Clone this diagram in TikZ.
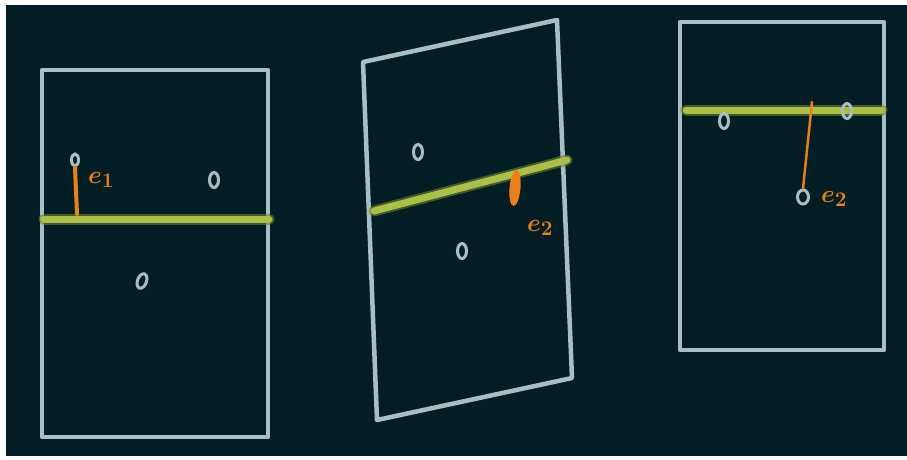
\documentclass[tikz,border=0pt]{standalone}
\usepackage{amsmath}
\usepackage{xcolor}
\usepackage{tikz}
\usetikzlibrary{positioning, calc, shapes.geometric}
\definecolor{board}{RGB}{2,30,36}
\definecolor{chalk}{RGB}{165,192,196}
\definecolor{axis}{RGB}{172,190,76}
\definecolor{axisglow}{RGB}{110,130,40}
\definecolor{mark}{RGB}{232,128,28}
\tikzset{
  frame/.style={draw=chalk, line width=4.5pt, line cap=round, line join=round},
  projline/.style={line cap=round},
  pt/.style={ellipse, draw=chalk, line width=3pt, inner sep=0pt,
    minimum width=9pt, minimum height=15pt},
  tick/.style={draw=mark, line width=4pt, line cap=round},
  elabel/.style={text=mark, font=\fontsize{30}{30}\selectfont\boldmath, inner sep=0pt},
}
\newcommand{\projaxis}[2]{%
  \draw[projline, draw=axisglow, opacity=0.6, line width=11pt] (#1) -- (#2);
  \draw[projline, draw=axis, line width=7pt] (#1) -- (#2);}

\begin{document}
\begin{tikzpicture}[x=1pt, y=-1pt]
  \useasboundingbox (0,0) rectangle (907,459);
  \fill[white] (0,0) rectangle (907,459);
  \fill[board] (6,5) rectangle (907,456);

  % first view
  \coordinate (A1) at (42,70);  \coordinate (B1) at (268,70);
  \coordinate (C1) at (268,437); \coordinate (D1) at (42,437);
  \draw[frame] (A1) -- (D1) -- (C1) -- (B1) -- cycle;
  \coordinate (L1) at (44,219); \coordinate (R1) at (269,219);
  \projaxis{L1}{R1}
  \node[pt] (a1) at (214,180) {};
  \node[pt, rotate=-20] (a2) at (142,281) {};
  \node[pt, minimum width=7pt, minimum height=12pt] (a3) at (75,160) {};
  \coordinate (f1) at (77,214);
  \draw[tick] (a3.south) -- (f1);
  \node[elabel] (e1) at (101,180) {$e_1$};

  % second view, rotated
  \coordinate (A2) at (363,62);  \coordinate (B2) at (557,20);
  \coordinate (C2) at (572,378); \coordinate (D2) at (377,420);
  \draw[frame] (A2) -- (B2) -- (C2) -- (D2) -- cycle;
  \coordinate (L2) at (374,211); \coordinate (R2) at (567,160);
  \projaxis{L2}{R2}
  \node[pt] (b1) at (418,152) {};
  \node[pt] (b2) at (462,251) {};
  \node[ellipse, fill=mark, minimum width=11pt, minimum height=36pt,
    inner sep=0pt, rotate=-5] (b3) at (515,188) {};
  \node[elabel] (e2) at (540,228) {$e_2$};

  % third view
  \coordinate (A3) at (680,22);  \coordinate (B3) at (884,22);
  \coordinate (C3) at (884,350); \coordinate (D3) at (680,350);
  \draw[frame] (A3) -- (D3) -- (C3) -- (B3) -- cycle;
  \coordinate (L3) at (686,110); \coordinate (R3) at (882,110);
  \projaxis{L3}{R3}
  \node[pt] (c1) at (724,121) {};
  \node[pt] (c2) at (847,111) {};
  \node[pt, minimum width=11pt, minimum height=14pt] (c3) at (803,197) {};
  \coordinate (f3) at (812,102);
  \draw[tick, line width=2.5pt] (f3) -- (c3.north);
  \node[elabel] (e3) at (834,199) {$e_2$};
\end{tikzpicture}
\end{document}
